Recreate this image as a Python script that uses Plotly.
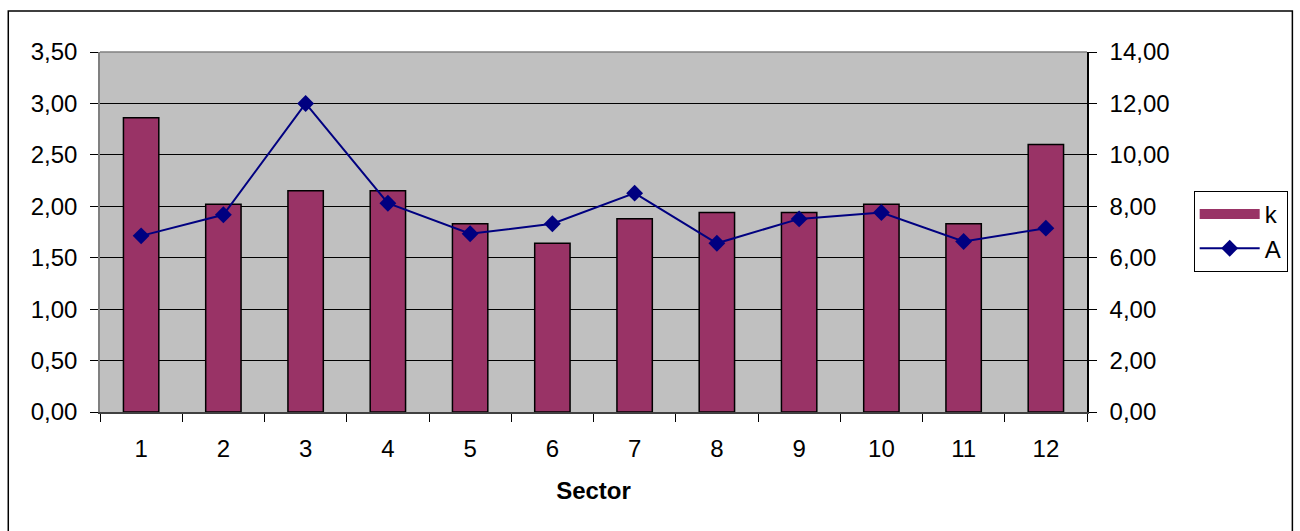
import plotly.graph_objects as go

# Sector values
sectors = ["1", "2", "3", "4", "5", "6", "7", "8", "9", "10", "11", "12"]
k_values = [2.86, 2.02, 2.15, 2.15, 1.83, 1.64, 1.88, 1.94, 1.94, 2.02, 1.83, 2.60]
a_values = [6.85, 7.67, 12.00, 8.12, 6.93, 7.32, 8.51, 6.56, 7.51, 7.76, 6.63, 7.15]

FONT = "Liberation Sans, Arial, sans-serif"
BAR_COLOR = "#993366"
LINE_COLOR = "#000080"

fig = go.Figure()

fig.add_trace(go.Bar(
    x=sectors, y=k_values, name="k", legendgroup="k", showlegend=False,
    marker=dict(color=BAR_COLOR, line=dict(color="black", width=1.5)),
    width=0.43, yaxis="y",
))

# wide swatch for the bar series legend entry
fig.add_trace(go.Scatter(
    x=[None], y=[None], name="k", legendgroup="k", mode="lines",
    line=dict(color=BAR_COLOR, width=11), yaxis="y", hoverinfo="skip",
))

fig.add_trace(go.Scatter(
    x=sectors, y=a_values, name="A", mode="lines+markers",
    line=dict(color=LINE_COLOR, width=2),
    marker=dict(symbol="diamond", size=13, color=LINE_COLOR),
    yaxis="y2",
))

# plot area geometry in pixels
W, H = 1300, 531
L, R, T, B = 100, 1090, 52, 412
pw, ph = R - L, B - T

def px_x(x):
    return (x - L) / pw

def px_y(y):
    return (B - y) / ph

fig.update_layout(
    width=W, height=H,
    margin=dict(l=L, r=W - R, t=T, b=H - B),
    paper_bgcolor="white",
    plot_bgcolor="#C0C0C0",
    separators=",.",
    font=dict(family=FONT, size=24, color="black"),
    showlegend=True,
    legend=dict(
        x=px_x(1197), y=px_y(191), xanchor="left", yanchor="top",
        bgcolor="white", bordercolor="black", borderwidth=1,
        font=dict(size=24), tracegroupgap=0, itemwidth=60,
    ),
    bargap=0.57,
    xaxis=dict(
        type="category", tickson="boundaries", ticks="outside", ticklen=8,
        tickcolor="black", showgrid=False, showline=True, linecolor="#404040",
        linewidth=1.5, ticklabelstandoff=14,
        title=dict(text="<b>Sector</b>", font=dict(size=24), standoff=22),
        range=[-0.5, 11.5],
    ),
    yaxis=dict(
        range=[0, 3.5], dtick=0.5, tickformat=".2f", ticks="outside", ticklen=8,
        tickcolor="black", showgrid=True, gridcolor="black", gridwidth=1,
        showline=True, linecolor="#808080", linewidth=1.5, zeroline=False,
        ticklabelstandoff=8,
    ),
    yaxis2=dict(
        range=[0, 14], dtick=2, tickformat=".2f", ticks="outside", ticklen=8,
        tickcolor="black", overlaying="y", side="right", showgrid=False,
        showline=True, linecolor="black", linewidth=1.5, zeroline=False,
        ticklabelstandoff=8,
    ),
    shapes=[
        # top edge of the plot area
        dict(type="line", xref="paper", yref="paper", x0=0, x1=1, y0=1, y1=1,
             line=dict(color="#808080", width=1.5)),
        # outer chart frame
        dict(type="rect", xref="paper", yref="paper",
             x0=px_x(8), x1=px_x(1296), y0=px_y(545), y1=px_y(11),
             line=dict(color="black", width=1.5)),
    ],
)

fig.write_html("out.html")
